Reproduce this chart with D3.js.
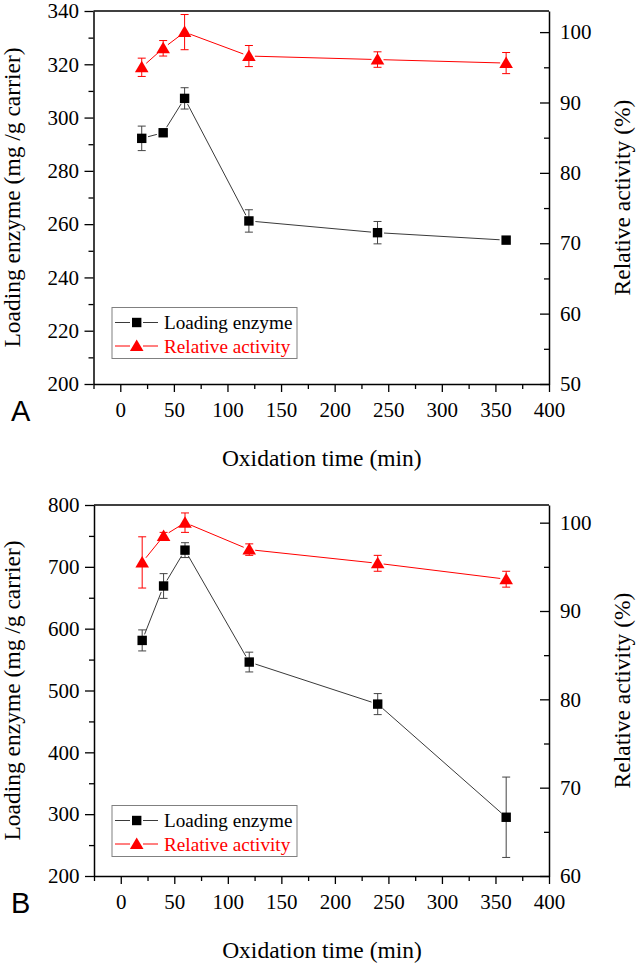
<!DOCTYPE html>
<html>
<head>
<meta charset="utf-8">
<script src="https://cdn.jsdelivr.net/npm/d3@7/dist/d3.min.js"></script>
<style>
  html, body { margin: 0; padding: 0; background: #fff; }
  svg { display: block; }
</style>
</head>
<body>
<div id="chart"></div>
<script>
// ---------------- data ----------------
const times = [20, 40, 60, 120, 240, 360];

const loadingA    = [292.2, 294.3, 307.2, 261.2, 256.8, 254.0];
const loadingAErr = [4.6, 1.0, 4.0, 4.2, 4.2, 1.0];
const activityA    = [95.0, 97.7, 100.0, 96.6, 96.1, 95.6];
const activityAErr = [1.3, 1.1, 2.5, 1.5, 1.1, 1.5];

const loadingB    = [581, 669, 727, 546, 478, 295];
const loadingBErr = [17, 20, 12, 16, 17, 65];
const activityB    = [95.5, 98.5, 100.0, 96.95, 95.4, 93.6];
const activityBErr = [2.9, 0.4, 1.1, 0.65, 0.9, 0.9];

const xTicks = [0, 50, 100, 150, 200, 250, 300, 350, 400];
const xMinorTicks = [-25, 25, 75, 125, 175, 225, 275, 325, 375];
const leftTicksA = [200, 220, 240, 260, 280, 300, 320, 340];
const leftMinorA = [210, 230, 250, 270, 290, 310, 330];
const rightTicksA = [50, 60, 70, 80, 90, 100];
const rightMinorA = [55, 65, 75, 85, 95];
const leftTicksB = [200, 300, 400, 500, 600, 700, 800];
const leftMinorB = [250, 350, 450, 550, 650, 750];
const rightTicksB = [60, 70, 80, 90, 100];
const rightMinorB = [65, 75, 85, 95];

const seriesNames = ["Loading enzyme", "Relative activity"];
const xTitle = "Oxidation time (min)";
const leftTitle = "Loading enzyme (mg /g carrier)";
const rightTitle = "Relative activity (%)";
const panelLetters = ["A", "B"];

// ---------------- drawing ----------------
const W = 638, H = 965;
const SERIF = "Liberation Serif, Times New Roman, serif";
const SANS = "Liberation Sans, Arial, sans-serif";
const BLACK_LINE = "#3a3a3a";
const RED = "#ff0000";
const svg = d3.select("#chart").append("svg").attr("width", W).attr("height", H)
  .attr("font-family", SERIF);

const triPath = "M0,-6.5L6.8,5L-6.8,5Z";

function drawPanel(o) {
  const g = svg.append("g");
  const x = d3.scaleLinear().domain([-25, 400]).range([o.left, o.right]);
  const yL = d3.scaleLinear().domain(o.leftDomain).range([o.bottom, o.top]);
  const yR = d3.scaleLinear().domain(o.rightDomain).range([o.bottom, o.top]);

  const styleAxis = sel => {
    sel.attr("font-family", SERIF).attr("font-size", 21);
    sel.selectAll(".domain").attr("stroke", "#000").attr("stroke-width", 1.5);
    sel.selectAll(".tick line").attr("stroke", "#000").attr("stroke-width", 1.3);
    sel.selectAll(".tick text").attr("font-size", 21).attr("fill", "#000").attr("font-family", SERIF);
  };

  // top border
  g.append("line").attr("x1", o.left).attr("x2", o.right).attr("y1", o.top).attr("y2", o.top)
    .attr("stroke", "#000").attr("stroke-width", 1.5);

  // bottom axis
  g.append("g").attr("transform", `translate(0,${o.bottom})`)
    .call(d3.axisBottom(x).tickValues(xTicks).tickSizeInner(8).tickSizeOuter(0).tickPadding(10).tickFormat(d3.format("d")))
    .call(styleAxis);
  g.append("g").attr("transform", `translate(0,${o.bottom})`)
    .call(d3.axisBottom(x).tickValues(xMinorTicks).tickSize(5).tickFormat(""))
    .call(s => s.select(".domain").remove()).call(styleAxis);

  // left axis
  g.append("g").attr("transform", `translate(${o.left},0)`)
    .call(d3.axisLeft(yL).tickValues(o.leftTicks).tickSizeInner(9).tickSizeOuter(0).tickPadding(5.5).tickFormat(d3.format("d")))
    .call(styleAxis);
  g.append("g").attr("transform", `translate(${o.left},0)`)
    .call(d3.axisLeft(yL).tickValues(o.leftMinor).tickSize(5).tickFormat(""))
    .call(s => s.select(".domain").remove()).call(styleAxis);

  // right axis (ticks inward)
  g.append("g").attr("transform", `translate(${o.right},0)`)
    .call(d3.axisRight(yR).tickValues(o.rightTicks).tickSizeInner(-9).tickSizeOuter(0).tickPadding(11).tickFormat(d3.format("d")))
    .call(styleAxis);
  g.append("g").attr("transform", `translate(${o.right},0)`)
    .call(d3.axisRight(yR).tickValues(o.rightMinor).tickSize(-5).tickFormat(""))
    .call(s => s.select(".domain").remove()).call(styleAxis);

  // titles
  g.append("text").attr("x", (o.left + o.right) / 2 + 0.5).attr("y", o.bottom + 82)
    .attr("text-anchor", "middle").attr("font-size", 23.5).attr("font-family", SERIF).text(xTitle);
  g.append("text").attr("transform", `translate(20,${(o.top + o.bottom) / 2}) rotate(-90)`)
    .attr("text-anchor", "middle").attr("font-size", 23.5).attr("font-family", SERIF).text(leftTitle);
  g.append("text").attr("transform", `translate(630,${(o.top + o.bottom) / 2}) rotate(-90)`)
    .attr("text-anchor", "middle").attr("font-size", 23.5).attr("font-family", SERIF).text(rightTitle);

  // panel letter
  g.append("text").attr("x", 11).attr("y", o.bottom + 37)
    .attr("font-family", SANS).attr("font-size", 29).text(o.letter);

  // series
  const series = [
    { vals: o.load, errs: o.loadErr, y: yL, color: BLACK_LINE, errColor: "#444", fill: "#000", shape: "square", gap: 6.5 },
    { vals: o.act, errs: o.actErr, y: yR, color: RED, errColor: RED, fill: RED, shape: "tri", gap: 6 }
  ];

  series.forEach(s => {
    const pts = times.map((t, i) => [x(t), s.y(s.vals[i])]);
    for (let i = 0; i < pts.length - 1; i++) {
      const [x1, y1] = pts[i], [x2, y2] = pts[i + 1];
      const len = Math.hypot(x2 - x1, y2 - y1);
      if (len <= 2 * s.gap) continue;
      const ux = (x2 - x1) / len, uy = (y2 - y1) / len;
      g.append("line")
        .attr("x1", x1 + ux * s.gap).attr("y1", y1 + uy * s.gap)
        .attr("x2", x2 - ux * s.gap).attr("y2", y2 - uy * s.gap)
        .attr("stroke", s.color).attr("stroke-width", 1);
    }
    times.forEach((t, i) => {
      const cx = x(t);
      const yTop = s.y(s.vals[i] + s.errs[i]);
      const yBot = s.y(s.vals[i] - s.errs[i]);
      const eg = g.append("g").attr("stroke", s.errColor).attr("stroke-width", 1);
      eg.append("line").attr("x1", cx).attr("x2", cx).attr("y1", yTop).attr("y2", yBot);
      eg.append("line").attr("x1", cx - 4).attr("x2", cx + 4).attr("y1", yTop).attr("y2", yTop);
      eg.append("line").attr("x1", cx - 4).attr("x2", cx + 4).attr("y1", yBot).attr("y2", yBot);
    });
    pts.forEach(([px, py]) => {
      if (s.shape === "square") {
        g.append("rect").attr("x", px - 4.7).attr("y", py - 4.7).attr("width", 9.4).attr("height", 9.4).attr("fill", s.fill);
      } else {
        g.append("path").attr("d", triPath).attr("transform", `translate(${px},${py})`).attr("fill", s.fill);
      }
    });
  });

  // legend
  const lg = g.append("g").attr("transform", `translate(112,${o.legendTop})`);
  lg.append("rect").attr("x", 0).attr("y", 0).attr("width", 185).attr("height", 51)
    .attr("fill", "#fff").attr("stroke", "#808080").attr("stroke-width", 1);
  const rows = [
    { name: seriesNames[0], color: BLACK_LINE, text: "#000", shape: "square", cy: 15 },
    { name: seriesNames[1], color: RED, text: RED, shape: "tri", cy: 38.5 }
  ];
  rows.forEach(r => {
    lg.append("line").attr("x1", 3).attr("x2", 18).attr("y1", r.cy).attr("y2", r.cy).attr("stroke", r.color).attr("stroke-width", 1);
    lg.append("line").attr("x1", 31).attr("x2", 46).attr("y1", r.cy).attr("y2", r.cy).attr("stroke", r.color).attr("stroke-width", 1);
    if (r.shape === "square") {
      lg.append("rect").attr("x", 24.7 - 4.7).attr("y", r.cy - 4.7).attr("width", 9.4).attr("height", 9.4).attr("fill", "#000");
    } else {
      lg.append("path").attr("d", triPath).attr("transform", `translate(24.7,${r.cy})`).attr("fill", RED);
    }
    lg.append("text").attr("x", 52).attr("y", r.cy + 6.5).attr("font-size", 19.2)
      .attr("font-family", SERIF).attr("fill", r.text).text(r.name);
  });
}

drawPanel({
  letter: panelLetters[0], left: 93.5, right: 549, top: 11, bottom: 384,
  leftDomain: [200, 340], rightDomain: [50, 103],
  leftTicks: leftTicksA, leftMinor: leftMinorA, rightTicks: rightTicksA, rightMinor: rightMinorA,
  load: loadingA, loadErr: loadingAErr, act: activityA, actErr: activityAErr,
  legendTop: 307.5
});

drawPanel({
  letter: panelLetters[1], left: 94, right: 549, top: 505, bottom: 876,
  leftDomain: [200, 800], rightDomain: [60, 102],
  leftTicks: leftTicksB, leftMinor: leftMinorB, rightTicks: rightTicksB, rightMinor: rightMinorB,
  load: loadingB, loadErr: loadingBErr, act: activityB, actErr: activityBErr,
  legendTop: 805.5
});
</script>
</body>
</html>
